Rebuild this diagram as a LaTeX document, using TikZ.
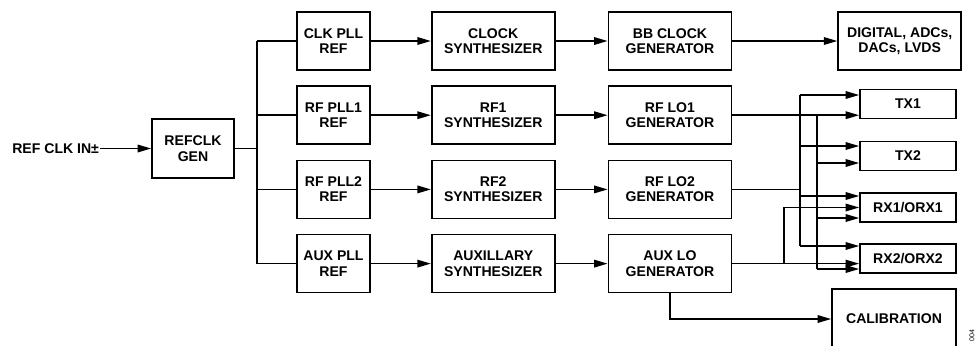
\documentclass[tikz,border=0pt]{standalone}
\usepackage{fontspec}
\setmainfont{Liberation Sans}
\usetikzlibrary{positioning,arrows.meta,calc}

\begin{document}
\begin{tikzpicture}[x=0.025cm, y=-0.025cm,
  box/.style={draw, line width=1.2pt, align=center, font=\bfseries\fontsize{10}{10.9}\selectfont, inner sep=0pt, minimum height=1.45cm, minimum width=#1},
  box/.default=3.075cm,
  refbox/.style={box=1.825cm},
  port/.style={box=2.4cm, minimum height=0.725cm},
  wire/.style={line width=1.1pt},
  arrow/.style={wire, -{Triangle[length=0.34cm, width=0.19cm]}}, node distance=0.3625cm]
  \useasboundingbox (0,0) rectangle (979,345);
  \node[box=2.05cm, minimum height=1.475cm] (gen) at (193,148.5) {REFCLK\\GEN};
  \node[inner sep=0.5pt, font=\bfseries\fontsize{10}{10.9}\selectfont, left=1.28cm of gen] (refin) {REF CLK IN±};
  \node[refbox] (clkref) at (333.5,41) {CLK PLL\\REF};
  \node[refbox, below=of clkref] (rf1ref) {RF PLL1\\REF};
  \node[refbox, below=of rf1ref] (rf2ref) {RF PLL2\\REF};
  \node[refbox, below=of rf2ref] (auxref) {AUX PLL\\REF};
  \node[box, right=1.5cm of clkref] (clksyn) {CLOCK\\SYNTHESIZER};
  \node[box, right=1.5cm of rf1ref] (rf1syn) {RF1\\SYNTHESIZER};
  \node[box, right=1.5cm of rf2ref] (rf2syn) {RF2\\SYNTHESIZER};
  \node[box, right=1.5cm of auxref] (auxsyn) {AUXILLARY\\SYNTHESIZER};
  \node[box, right=1.3cm of clksyn] (bbclk) {BB CLOCK\\GENERATOR};
  \node[box, right=1.3cm of rf1syn] (rflo1) {RF LO1\\GENERATOR};
  \node[box, right=1.3cm of rf2syn] (rflo2) {RF LO2\\GENERATOR};
  \node[box, right=1.3cm of auxsyn] (auxlo) {AUX LO\\GENERATOR};
  \node[box, right=2.625cm of bbclk] (digital) {DIGITAL, ADCs,\\DACs, LVDS};
  \node[port] (tx1) at (908,104) {TX1};
  \node[port] (tx2) at (908,156) {TX2};
  \node[port] (rx1) at (908,207.5) {RX1/ORX1};
  \node[port] (rx2) at (908,258.5) {RX2/ORX2};
  \node[box=3.1cm, minimum height=1.5cm] (cal) at (894,319) {CALIBRATION};
  \node[rotate=90, anchor=east, inner sep=0pt, font=\fontsize{5}{6}\selectfont] (figid) at (972,329) {004};
  \coordinate (bus) at (257,0);
  \coordinate (auxbus) at (784,0);
  \coordinate (lo2bus) at (800,0);
  \coordinate (lo1bus) at (817,0);
  \coordinate (tx1a) at ($(tx1.west)+(0,-9)$);
  \coordinate (tx2a) at ($(tx2.west)+(0,-10)$);
  \coordinate (tx2b) at ($(tx2.west)+(0,7)$);
  \coordinate (rx1a) at ($(rx1.west)+(0,-11.5)$);
  \coordinate (rx1c) at ($(rx1.west)+(0,10.5)$);
  \coordinate (rx2a) at ($(rx2.west)+(0,-12.5)$);
  \coordinate (rx2c) at ($(rx2.west)+(0,10.5)$);
  \draw[arrow] (refin) -- (gen);
  \draw[wire] (gen) -- (gen -| bus);
  \draw[wire] (clkref -| bus) -- (auxref -| bus);
  \foreach \n in {clkref, rf1ref, rf2ref, auxref} \draw[wire] (\n -| bus) -- (\n);
  \foreach \a/\b in {clkref/clksyn, rf1ref/rf1syn, rf2ref/rf2syn, auxref/auxsyn, clksyn/bbclk, rf1syn/rflo1, rf2syn/rflo2, auxsyn/auxlo, bbclk/digital} \draw[arrow] (\a) -- (\b);
  \draw[arrow] (rflo1) -- (rflo1 -| tx1.west);
  \draw[wire] (rflo1 -| lo1bus) -- (rx2c -| lo1bus);
  \foreach \p in {tx2b, rx1c, rx2c} \draw[arrow] (\p -| lo1bus) -- (\p);
  \draw[wire] (rflo2) -- (rflo2 -| lo2bus);
  \draw[wire] (tx1a -| lo2bus) -- (rx2a -| lo2bus);
  \foreach \p in {tx1a, tx2a, rx1a, rx2a} \draw[arrow] (\p -| lo2bus) -- (\p);
  \draw[arrow] (auxlo) -- (auxlo -| rx2.west);
  \draw[arrow] (auxlo -| auxbus) |- (rx1.west);
  \draw[arrow] (auxlo.south) |- (cal.west);
\end{tikzpicture}
\end{document}
